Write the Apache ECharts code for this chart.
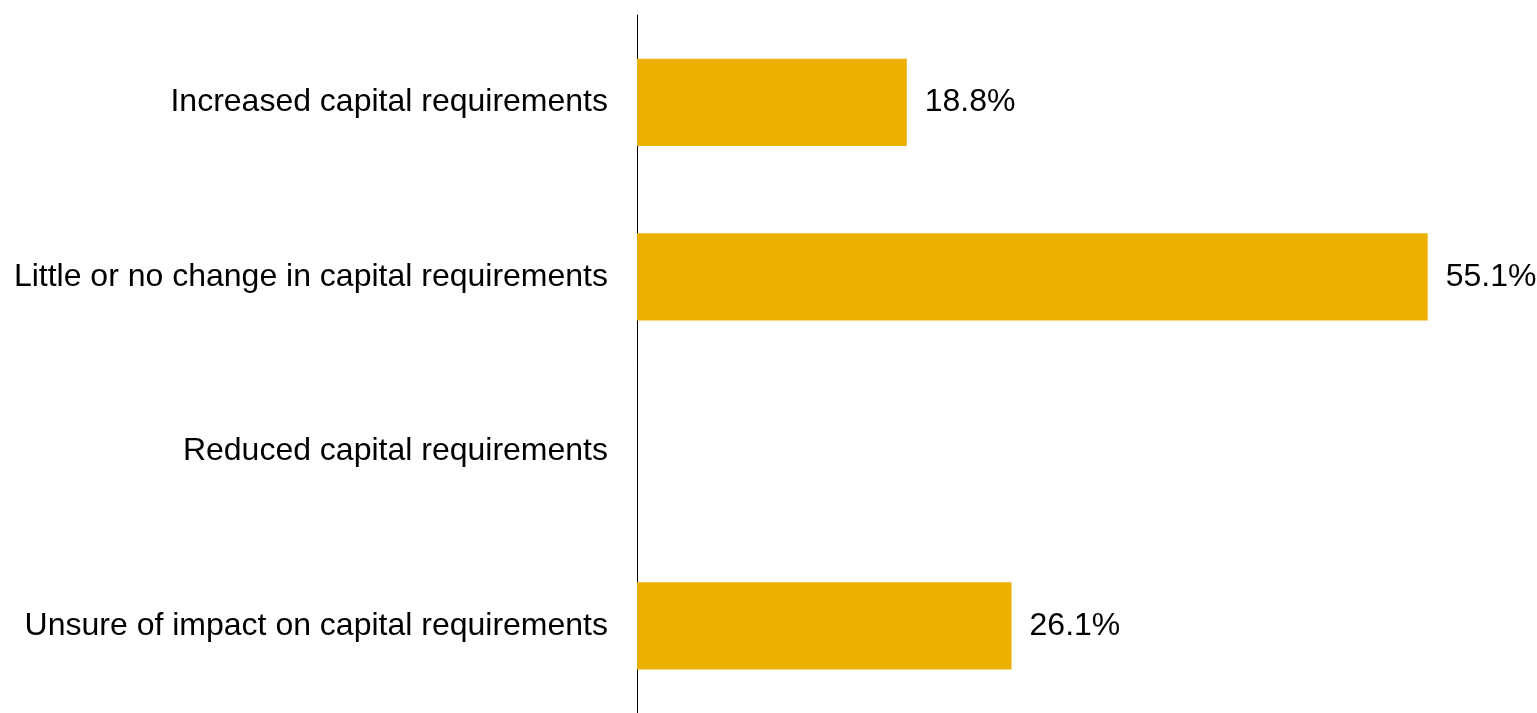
<!DOCTYPE html>
<html>
<head>
<meta charset="utf-8">
<script src="https://cdn.jsdelivr.net/npm/echarts@6/dist/echarts.min.js"></script>
<style>
  html, body { margin: 0; padding: 0; background: #ffffff; }
  #chart { width: 1537px; height: 713px; }
</style>
</head>
<body>
<div id="chart"></div>
<script>
// Survey responses: expected effect on capital requirements
const categories = [
  'Increased capital requirements',
  'Little or no change in capital requirements',
  'Reduced capital requirements',
  'Unsure of impact on capital requirements'
];
const shares = [18.8, 55.1, 0, 26.1];

const FONT = '"Liberation Sans", Arial, sans-serif';

const chart = echarts.init(document.getElementById('chart'));
chart.setOption({
  animation: false,
  grid: { left: 637, width: 861, top: 15, height: 704, containLabel: false },
  xAxis: {
    type: 'value',
    min: 0,
    max: 60,
    show: false
  },
  yAxis: {
    type: 'category',
    data: categories,
    inverse: true,
    axisLine: { show: true, lineStyle: { color: '#000000', width: 1 } },
    axisTick: { show: false },
    axisLabel: {
      color: '#000000',
      fontFamily: FONT,
      fontSize: 32,
      margin: 29,
      padding: [9, 0, 0, 0]
    }
  },
  series: [{
    type: 'bar',
    data: shares,
    barCategoryGap: '50%',
    itemStyle: { color: '#EBB000' },
    label: {
      show: true,
      position: 'right',
      distance: 18,
      color: '#000000',
      fontFamily: FONT,
      fontSize: 32,
      padding: [9, 0, 0, 0],
      formatter: p => p.value > 0 ? p.value.toFixed(1) + '%' : ''
    }
  }]
});
</script>
</body>
</html>
